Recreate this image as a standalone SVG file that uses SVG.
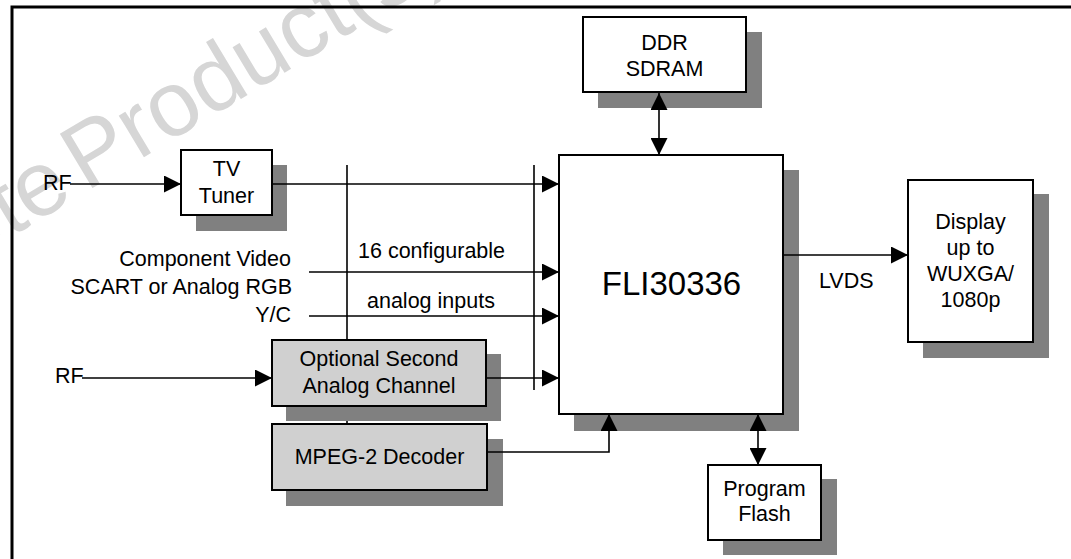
<svg xmlns="http://www.w3.org/2000/svg" width="1071" height="559" viewBox="0 0 1071 559">
<style>
.box{fill:#ffffff;stroke:#000000;stroke-width:2}
.gbox{fill:#d0d0d0;stroke:#000000;stroke-width:2}
.sh{fill:#808080}
.t{font-family:"Liberation Sans",Arial,sans-serif;font-size:21.5px;fill:#000000}
.c{text-anchor:middle}
.e{text-anchor:end}
.ln{fill:none;stroke:#000000;stroke-width:1.6}
.wm{font-family:"Liberation Sans",Arial,sans-serif;font-size:92px;fill:#d6d6d6}
</style>
<defs>
<marker id="ah" markerUnits="userSpaceOnUse" markerWidth="17" markerHeight="17" refX="17" refY="8.5" orient="auto">
<path d="M0,0 L17,8.5 L0,17 z" fill="#000000"/>
</marker>
<marker id="as" markerUnits="userSpaceOnUse" markerWidth="17" markerHeight="17" refX="0" refY="8.5" orient="auto">
<path d="M17,0 L0,8.5 L17,17 z" fill="#000000"/>
</marker>
</defs>
<rect x="0" y="0" width="1071" height="559" fill="#ffffff"/>
<g id="watermark" transform="translate(86,192) rotate(-31)">
<text class="wm" x="-12" y="0" text-anchor="end">Obsolete</text>
<text class="wm" x="0" y="0">Product(s)</text>
</g>
<g id="frame">
<path d="M12,559 L12,7 L1071,7" fill="none" stroke="#000000" stroke-width="3"/>
</g>
<g id="dividers">
<line class="ln" x1="347" y1="165" x2="347" y2="424"/>
<line class="ln" x1="534" y1="165" x2="534" y2="390"/>
</g>
<g id="rf1"><text class="t" x="43" y="190">RF</text></g>
<g id="rf2"><text class="t" x="55" y="383">RF</text></g>
<g id="inputs">
<text class="t e" x="291" y="266">Component Video</text>
<text class="t e" x="292" y="294">SCART or Analog RGB</text>
<text class="t e" x="291" y="322">Y/C</text>
</g>
<g id="tuner">
<rect class="sh" x="196" y="165" width="91" height="66"/>
<rect class="box" x="181" y="150" width="91" height="65"/>
<text class="t c" x="226.5" y="176">TV</text>
<text class="t c" x="226.5" y="203">Tuner</text>
</g>
<g id="ddr">
<rect class="sh" x="598" y="32" width="164" height="76"/>
<rect class="box" x="583" y="17" width="163" height="75"/>
<text class="t c" x="664.5" y="50">DDR</text>
<text class="t c" x="664.5" y="76">SDRAM</text>
</g>
<g id="fli">
<rect class="sh" x="574" y="170" width="225" height="261"/>
<rect class="box" x="559" y="155" width="224" height="259"/>
<text class="t c" x="671.5" y="295" style="font-size:33px">FLI30336</text>
</g>
<g id="display">
<rect class="sh" x="923" y="194" width="126" height="164"/>
<rect class="box" x="908" y="180" width="125" height="162"/>
<text class="t c" x="970.5" y="229">Display</text>
<text class="t c" x="970.5" y="255">up to</text>
<text class="t c" x="970.5" y="281">WUXGA/</text>
<text class="t c" x="970.5" y="307">1080p</text>
</g>
<g id="optional">
<rect class="sh" x="286" y="354" width="215" height="67"/>
<rect class="gbox" x="272" y="340" width="214" height="66"/>
<text class="t c" x="379" y="365.5">Optional Second</text>
<text class="t c" x="379" y="392.5">Analog Channel</text>
</g>
<g id="mpeg">
<rect class="sh" x="286" y="439" width="217" height="67"/>
<rect class="gbox" x="272" y="424" width="215" height="66"/>
<text class="t c" x="379.5" y="463.5">MPEG-2 Decoder</text>
</g>
<g id="flash">
<rect class="sh" x="723" y="479" width="114" height="76"/>
<rect class="box" x="708" y="465" width="113" height="75"/>
<text class="t c" x="764.5" y="495.5">Program</text>
<text class="t c" x="764.5" y="520.5">Flash</text>
</g>
<g id="connectors">
<line class="ln" x1="70" y1="184" x2="181" y2="184" marker-end="url(#ah)"/>
<line class="ln" x1="272" y1="184" x2="559" y2="184" marker-end="url(#ah)"/>
<line class="ln" x1="309" y1="272" x2="559" y2="272" marker-end="url(#ah)"/>
<line class="ln" x1="309" y1="316" x2="559" y2="316" marker-end="url(#ah)"/>
<line class="ln" x1="82" y1="378" x2="272" y2="378" marker-end="url(#ah)"/>
<line class="ln" x1="486" y1="378" x2="559" y2="378" marker-end="url(#ah)"/>
<polyline class="ln" points="487,452 609,452 609,414" marker-end="url(#ah)"/>
<line class="ln" x1="659" y1="93" x2="659" y2="155" marker-start="url(#as)" marker-end="url(#ah)"/>
<line class="ln" x1="758" y1="414" x2="758" y2="465" marker-start="url(#as)" marker-end="url(#ah)"/>
<line class="ln" x1="783" y1="255" x2="908" y2="255" marker-end="url(#ah)"/>
<text class="t" x="358" y="258">16 configurable</text>
<text class="t" x="367" y="308">analog inputs</text>
<text class="t" x="819" y="288">LVDS</text>
</g>
</svg>
